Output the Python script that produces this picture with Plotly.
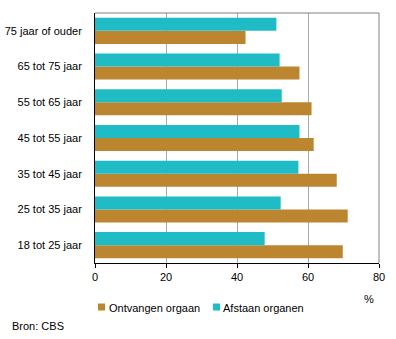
import plotly.graph_objects as go

categories = ["18 tot 25 jaar", "25 tot 35 jaar", "35 tot 45 jaar", "45 tot 55 jaar",
              "55 tot 65 jaar", "65 tot 75 jaar", "75 jaar of ouder"]
ontvangen = [69.8, 71.2, 68.1, 61.6, 61.0, 57.6, 42.4]
afstaan = [47.8, 52.3, 57.3, 57.6, 52.6, 52.0, 51.1]
x_ticks = [0, 20, 40, 60, 80]
series_names = ["Ontvangen orgaan", "Afstaan organen"]

orange = "#BC8630"
teal = "#1FBCC6"
font = "Liberation Sans, Arial, sans-serif"

# plot area in pixels: x 95..379, y 13..263
L, R, T, B = 95, 379, 13, 263
W, H = R - L, B - T


def px(x):
    return (x - L) / W


def py(y):
    return (B - y) / H


fig = go.Figure()
fig.add_trace(go.Bar(y=categories, x=ontvangen, orientation="h", name=series_names[0],
                     marker=dict(color=orange, line=dict(width=0))))
fig.add_trace(go.Bar(y=categories, x=afstaan, orientation="h", name=series_names[1],
                     marker=dict(color=teal, line=dict(width=0))))

shapes = [
    dict(type="line", xref="paper", yref="paper", x0=0, x1=1, y0=1, y1=1,
         line=dict(color="#808080", width=1)),
    dict(type="line", xref="paper", yref="paper", x0=1, x1=1, y0=0, y1=1,
         line=dict(color="#808080", width=1)),
    dict(type="rect", xref="paper", yref="paper", x0=px(98), x1=px(105), y0=py(310.5), y1=py(303.5),
         fillcolor=orange, line=dict(width=0)),
    dict(type="rect", xref="paper", yref="paper", x0=px(213), x1=px(220), y0=py(310.5), y1=py(303.5),
         fillcolor=teal, line=dict(width=0)),
]

annotations = [
    dict(text=series_names[0], xref="paper", yref="paper", x=px(107), y=py(307.5),
         xanchor="left", yanchor="middle", showarrow=False, font=dict(size=11)),
    dict(text=series_names[1], xref="paper", yref="paper", x=px(221), y=py(307.5),
         xanchor="left", yanchor="middle", showarrow=False, font=dict(size=11)),
    dict(text="%", xref="paper", yref="paper", x=px(369), y=py(299), xanchor="center",
         yanchor="middle", showarrow=False, font=dict(size=11)),
    dict(text="Bron: CBS", xref="paper", yref="paper", x=px(10), y=py(325.5),
         xanchor="left", yanchor="middle", showarrow=False, font=dict(size=11)),
]

fig.update_layout(
    width=396, height=339,
    margin=dict(l=L, r=396 - R, t=T, b=339 - B, autoexpand=False),
    barmode="group", bargap=0.27, bargroupgap=0,
    plot_bgcolor="white", paper_bgcolor="white",
    font=dict(family=font, size=11, color="black"),
    showlegend=False,
    xaxis=dict(range=[0, 80], tickvals=x_ticks, showgrid=True, gridcolor="#AAAAAA",
               gridwidth=1, showline=True, linecolor="black", linewidth=1,
               ticks="outside", ticklen=4, tickcolor="black", zeroline=False,
               tickfont=dict(size=11), fixedrange=True, automargin=False),
    yaxis=dict(showline=True, linecolor="black", linewidth=1, showgrid=False,
               ticks="", ticklabelstandoff=10, tickfont=dict(size=11), fixedrange=True,
               automargin=False),
    shapes=shapes,
    annotations=annotations,
)

fig.write_html("out.html")
